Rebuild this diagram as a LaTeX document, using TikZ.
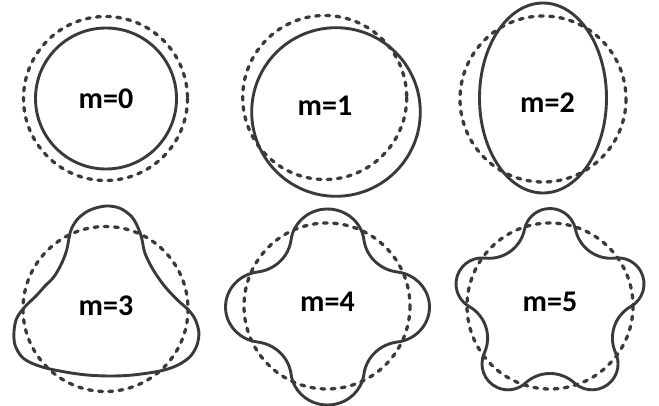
\documentclass[tikz,border=0pt]{standalone}
\usepackage{fontspec}
\setmainfont{Carlito}
\definecolor{linegray}{HTML}{3A3A3A}
\begin{document}
\begin{tikzpicture}[x=1pt,y=-1pt,
  solidline/.style={draw=linegray, line width=2.9pt, line join=round},
  dashline/.style={draw=linegray, line width=3.3pt, dash pattern=on 3.8pt off 6.4pt, line cap=round},
  lbl/.style={font=\bfseries\fontsize{30}{30}\selectfont, inner sep=0pt, text=black}]
\useasboundingbox (0,0) rectangle (659,406);
% ---------- m=0 ----------
\draw[dashline] (105.5,98.5) circle[radius=82];
\draw[solidline] (106,98.5) circle[radius=70.5];
\node[lbl] (m0) at (106,99) {m=0};
% ---------- m=1 ----------
\draw[dashline] (324.7,97.5) circle[radius=82];
\draw[solidline] (336,112) circle[radius=84.3];
\node[lbl] (m1) at (325,105.5) {m=1};
% ---------- m=2 ----------
\draw[dashline] (543,99) circle[radius=83];
\draw[solidline] (543,98) ellipse[x radius=63.5, y radius=95];
\node[lbl] (m2) at (547.5,103) {m=2};
% ---------- m=3 ----------
\draw[dashline] (105.5,309) circle[radius=82.5];
\draw[solidline] plot[smooth cycle, tension=0.55] coordinates {
 (106,206) (120,208.3) (131.7,216.7) (138.3,228.3) (141.7,238.3) (145,253.3)
 (153.3,270) (165,286.7) (178,300.5) (188,309.5) (195,319) (198.8,332)
 (197,345) (190,356.7) (177,365.5) (160,371) (133,375) (110,376) (87,375)
 (67,372.3) (47,368.3) (32,363.3) (21.7,356.7) (15,345) (14,331.7) (16.7,318.3)
 (25,306.7) (36,296) (45,286) (54,276.7) (61.7,263.3) (66.7,250) (69.3,236.7)
 (71.7,228.3) (78.3,218.3) (90,210)};
\node[lbl] (m3) at (106,306) {m=3};
% ---------- m=4 ----------
\draw[dashline] (327,306) circle[radius=83];
\begin{scope}[shift={(327.5,307)}, yscale=-1, xscale=1.02, yscale=0.98]
\draw[solidline] (0:64) ++(-82.7:36)
  arc[start angle=-82.7, end angle=82.7, radius=36]
  arc[start angle=262.7, end angle=187.3, radius=38]
  arc[start angle=7.3, end angle=172.7, radius=36]
  arc[start angle=352.7, end angle=277.3, radius=38]
  arc[start angle=97.3, end angle=262.7, radius=36]
  arc[start angle=442.7, end angle=367.3, radius=38]
  arc[start angle=187.3, end angle=352.7, radius=36]
  arc[start angle=532.7, end angle=457.3, radius=38] -- cycle;
\end{scope}
\node[lbl] (m4) at (327.5,302) {m=4};
% ---------- m=5 ----------
\draw[dashline] (550,306) circle[radius=83];
\begin{scope}[shift={(550,306)}, yscale=-1]
\draw[solidline] (18:71.5) ++(-60.5:26)
  arc[start angle=-60.5, end angle=96.5, radius=26]
  arc[start angle=276.5, end angle=191.5, radius=36.2]
  arc[start angle=11.5, end angle=168.5, radius=26]
  arc[start angle=348.5, end angle=263.5, radius=36.2]
  arc[start angle=83.5, end angle=240.5, radius=26]
  arc[start angle=420.5, end angle=335.5, radius=36.2]
  arc[start angle=155.5, end angle=312.5, radius=26]
  arc[start angle=492.5, end angle=407.5, radius=36.2]
  arc[start angle=227.5, end angle=384.5, radius=26]
  arc[start angle=564.5, end angle=479.5, radius=36.2] -- cycle;
\end{scope}
\node[lbl] (m5) at (550,302) {m=5};
\end{tikzpicture}
\end{document}
